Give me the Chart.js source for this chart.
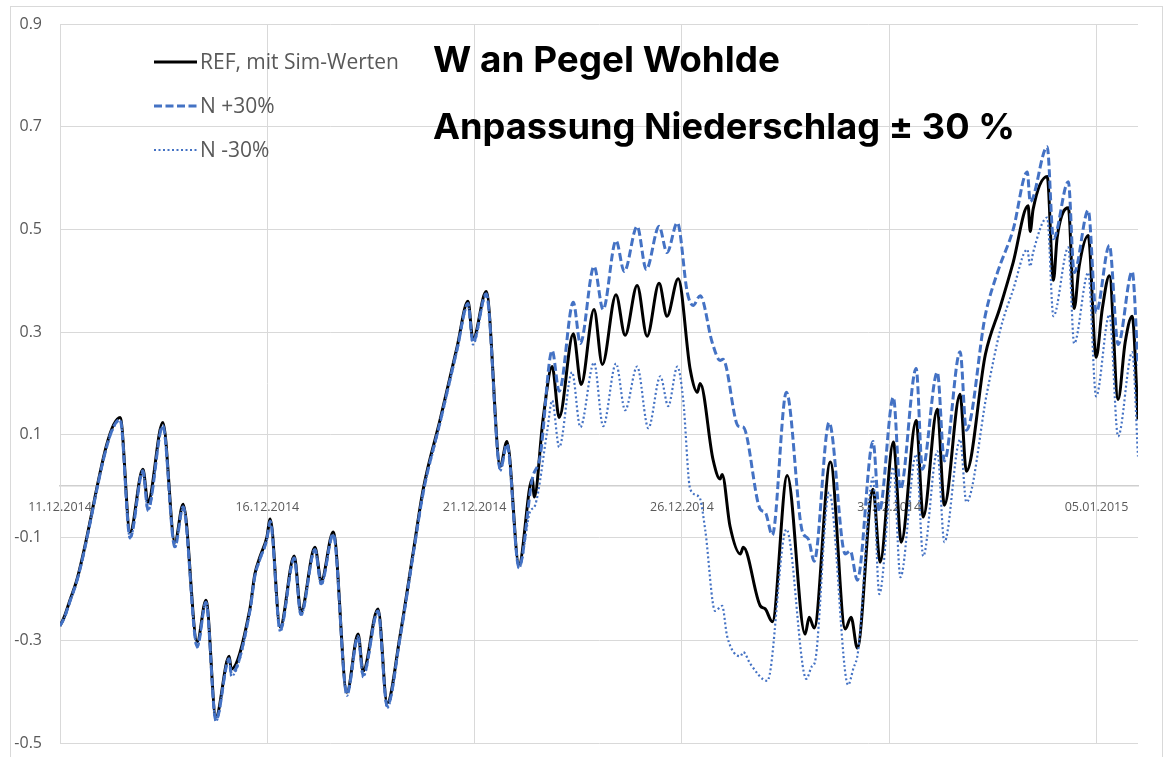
<!DOCTYPE html>
<html><head><meta charset="utf-8">
<script src="https://cdn.jsdelivr.net/npm/chart.js@4.4.1/dist/chart.umd.min.js"></script>
<style>html,body{margin:0;padding:0;background:#fff;}#wrap{width:1165px;height:757px;}</style>
</head><body><div id="wrap"><canvas id="c" width="1165" height="757"></canvas></div>
<script>
// ---- data (x = days since 11.12.2014 00:00, y = water level) ----
const startYear = 2014, startMonth = 11, startDay = 11;
const tickDays = [0, 5, 10, 15, 20, 25];
const yTicks = [-0.5, -0.3, -0.1, 0.1, 0.3, 0.5, 0.7, 0.9];
const seriesNames = ['REF, mit Sim-Werten', 'N +30%', 'N -30%'];
const titleLines = ['W an Pegel Wohlde', 'Anpassung Niederschlag ± 30 %'];

const refDays = [0.00,0.10,0.24,0.39,1.45,1.69,2.00,2.12,2.48,2.77,2.97,3.31,3.52,3.76,4.08,4.13,4.58,4.70,4.83,4.99,5.07,5.31,5.65,5.81,6.15,6.30,6.59,6.92,7.19,7.31,7.67,7.89,8.20,8.52,8.76,9.17,9.58,9.84,9.96,10.28,10.62,10.78,11.07,11.39,11.44,11.65,11.87,12.04,12.38,12.57,12.88,13.08,13.41,13.63,13.92,14.16,14.45,14.64,14.91,15.20,15.37,15.44,15.75,15.92,15.97,16.16,16.41,16.48,16.89,17.01,17.18,17.54,17.97,18.07,18.19,18.58,18.94,19.08,19.23,19.61,19.78,20.10,20.29,20.65,20.82,21.16,21.33,21.71,21.86,22.32,22.68,22.99,23.35,23.40,23.47,23.81,23.96,24.05,24.32,24.46,24.58,24.80,24.99,25.14,25.31,25.52,25.69,25.86,26.00];
const refValues = [-0.272,-0.255,-0.222,-0.187,0.134,-0.089,0.033,-0.031,0.124,-0.109,-0.035,-0.303,-0.222,-0.449,-0.331,-0.356,-0.239,-0.171,-0.136,-0.099,-0.064,-0.274,-0.136,-0.245,-0.119,-0.185,-0.089,-0.401,-0.288,-0.360,-0.239,-0.422,-0.292,-0.128,-0.006,0.130,0.272,0.360,0.286,0.379,0.039,0.087,-0.152,0.014,-0.021,0.130,0.233,0.134,0.297,0.198,0.344,0.237,0.373,0.294,0.391,0.292,0.395,0.331,0.404,0.227,0.183,0.200,0.052,0.014,0.023,-0.078,-0.132,-0.119,-0.233,-0.239,-0.264,0.021,-0.288,-0.255,-0.276,0.047,-0.278,-0.255,-0.315,-0.006,-0.148,0.086,-0.109,0.128,-0.060,0.150,-0.037,0.179,0.029,0.257,0.350,0.436,0.546,0.496,0.539,0.603,0.401,0.484,0.542,0.346,0.428,0.488,0.251,0.346,0.410,0.169,0.280,0.331,0.130];

const plusDays = [0.00,0.10,0.24,0.39,1.45,1.69,2.00,2.12,2.48,2.77,2.97,3.31,3.52,3.76,4.08,4.13,4.58,4.70,4.83,4.99,5.07,5.31,5.65,5.81,6.15,6.30,6.59,6.92,7.19,7.31,7.67,7.89,8.20,8.52,8.76,9.17,9.58,9.84,9.96,10.28,10.62,10.78,11.07,11.39,11.58,11.87,12.04,12.38,12.55,12.88,13.10,13.41,13.61,13.92,14.14,14.45,14.64,14.89,15.13,15.27,15.44,15.73,15.92,15.99,16.36,16.48,16.89,17.01,17.18,17.52,17.90,18.05,18.19,18.55,18.94,19.06,19.23,19.61,19.76,20.10,20.27,20.65,20.80,21.16,21.33,21.71,21.86,22.32,22.61,22.99,23.33,23.40,23.81,23.96,24.32,24.46,24.80,24.99,25.31,25.52,25.86,26.00];
const plusValues = [-0.272,-0.257,-0.224,-0.189,0.130,-0.100,0.030,-0.045,0.118,-0.118,-0.040,-0.312,-0.226,-0.456,-0.336,-0.366,-0.243,-0.175,-0.140,-0.103,-0.068,-0.280,-0.140,-0.250,-0.123,-0.190,-0.093,-0.405,-0.292,-0.368,-0.243,-0.428,-0.296,-0.132,-0.012,0.126,0.268,0.356,0.280,0.375,0.033,0.082,-0.158,0.014,0.058,0.264,0.185,0.358,0.278,0.428,0.344,0.478,0.418,0.506,0.422,0.506,0.455,0.513,0.377,0.352,0.371,0.280,0.245,0.247,0.117,0.115,-0.045,-0.051,-0.095,0.183,-0.087,-0.103,-0.146,0.124,-0.132,-0.126,-0.183,0.087,-0.049,0.173,-0.006,0.229,0.033,0.222,0.049,0.262,0.109,0.334,0.416,0.500,0.612,0.554,0.661,0.482,0.593,0.416,0.537,0.338,0.469,0.276,0.418,0.235];

const minusDays = [0.00,0.10,0.24,0.39,1.45,1.69,2.00,2.12,2.48,2.77,2.97,3.31,3.52,3.76,4.08,4.13,4.58,4.70,4.83,4.99,5.07,5.31,5.65,5.81,6.15,6.30,6.59,6.92,7.19,7.31,7.67,7.89,8.20,8.52,8.76,9.17,9.58,9.84,9.96,10.28,10.62,10.78,11.07,11.34,11.46,11.75,11.87,12.04,12.35,12.55,12.88,13.10,13.41,13.63,13.92,14.19,14.48,14.67,14.89,15.03,15.20,15.42,15.56,15.80,15.97,16.09,16.41,16.48,16.65,17.06,17.52,18.00,18.14,18.21,18.55,19.01,19.13,19.25,19.61,19.76,20.10,20.27,20.65,20.82,21.16,21.33,21.71,21.86,22.36,22.68,22.99,23.33,23.40,23.47,23.81,23.96,24.32,24.46,24.80,24.99,25.31,25.52,25.86,26.00];
const minusValues = [-0.272,-0.258,-0.226,-0.190,0.128,-0.102,0.028,-0.048,0.116,-0.120,-0.042,-0.314,-0.228,-0.458,-0.338,-0.370,-0.245,-0.177,-0.142,-0.105,-0.070,-0.283,-0.142,-0.252,-0.125,-0.192,-0.095,-0.408,-0.294,-0.372,-0.245,-0.432,-0.298,-0.135,-0.015,0.122,0.265,0.352,0.276,0.372,0.030,0.080,-0.160,-0.049,-0.037,0.107,0.167,0.076,0.222,0.115,0.241,0.117,0.239,0.148,0.233,0.113,0.214,0.156,0.233,0.169,-0.006,-0.021,-0.084,-0.243,-0.233,-0.292,-0.331,-0.323,-0.346,-0.379,-0.084,-0.375,-0.350,-0.342,-0.012,-0.387,-0.356,-0.321,0.017,-0.210,0.037,-0.177,0.062,-0.136,0.068,-0.109,0.091,-0.031,0.183,0.305,0.383,0.461,0.428,0.455,0.523,0.331,0.465,0.278,0.416,0.175,0.334,0.097,0.261,0.058];

// ---- helpers ----
function toPoints(days, vals) { return days.map((d, i) => ({ x: d, y: vals[i] })); }
function fmtDate(v) {
  const d = new Date(startYear, startMonth, startDay + Math.round(v));
  const p = n => String(n).padStart(2, '0');
  return p(d.getDate()) + '.' + p(d.getMonth() + 1) + '.' + d.getFullYear();
}
const GRID = '#d9d9d9', TXT = '#595959', FONT = "'Open Sans', 'Noto Sans', sans-serif";

const overlay = {
  id: 'overlay',
  afterDraw(chart) {
    const ctx = chart.ctx;
    ctx.save();
    // outer chart border
    ctx.strokeStyle = GRID; ctx.lineWidth = 1;
    ctx.strokeRect(10.5, 6.5, 1152, 760);
    // legend
    const ys = [62, 106, 150];
    chart.data.datasets.forEach((ds, i) => {
      ctx.save();
      ctx.strokeStyle = ds.borderColor;
      ctx.lineWidth = ds.borderWidth;
      ctx.setLineDash(ds.borderDash || []);
      ctx.beginPath(); ctx.moveTo(154, ys[i]); ctx.lineTo(197, ys[i]); ctx.stroke();
      ctx.restore();
      ctx.fillStyle = TXT;
      ctx.font = "21px " + FONT;
      ctx.textBaseline = 'middle'; ctx.textAlign = 'left';
      ctx.fillText(ds.label, 200, ys[i] + 1);
    });
    // title
    ctx.fillStyle = '#000';
    ctx.textBaseline = 'alphabetic'; ctx.textAlign = 'left';
    ctx.font = "bold 36px Inter, Roboto, 'Liberation Sans', sans-serif";
    const targets = [[433, 72, 347], [433, 139, 582]];
    titleLines.forEach((t, i) => {
      const [x, y, w] = targets[i];
      const m = ctx.measureText(t).width;
      ctx.save();
      ctx.translate(x, y);
      ctx.scale(w / m, 1);
      ctx.fillText(t, 0, 0);
      ctx.restore();
    });
    ctx.restore();
  }
};

new Chart(document.getElementById('c'), {
  type: 'line',
  data: {
    datasets: [
      { label: seriesNames[0], data: toPoints(refDays, refValues), borderColor: '#000000', borderWidth: 3,
        pointRadius: 0, cubicInterpolationMode: 'monotone', fill: false, order: 3 },
      { label: seriesNames[1], data: toPoints(plusDays, plusValues), borderColor: '#4472C4', borderWidth: 3,
        borderDash: [8, 3.5], pointRadius: 0, cubicInterpolationMode: 'monotone', fill: false, order: 2 },
      { label: seriesNames[2], data: toPoints(minusDays, minusValues), borderColor: '#4472C4', borderWidth: 2.2,
        borderDash: [2, 2.5], pointRadius: 0, cubicInterpolationMode: 'monotone', fill: false, order: 1 }
    ]
  },
  options: {
    responsive: false, animation: false, devicePixelRatio: 1,
    layout: { padding: { left: 0, top: 24, right: 27, bottom: 14 } },
    plugins: { legend: { display: false }, tooltip: { enabled: false } },
    scales: {
      x: {
        type: 'linear', min: 0, max: 26, position: { y: 0 },
        grid: { color: GRID, drawTicks: false, lineWidth: 1 },
        border: { color: '#cfcfcf', width: 1.5 },
        ticks: { padding: 14, color: TXT, maxRotation: 0, font: { family: FONT, size: 12.5 }, callback: v => fmtDate(v) },
        afterBuildTicks: s => { s.ticks = tickDays.map(v => ({ value: v })); },
        afterFit: s => { s.height = 0; s.paddingLeft = 0; s.paddingRight = 0; s.paddingTop = 0; s.paddingBottom = 0; }
      },
      y: {
        type: 'linear', min: -0.5, max: 0.9,
        grid: { color: GRID, drawTicks: false, lineWidth: 1 },
        border: { color: GRID, width: 1 },
        ticks: { padding: 18, color: TXT, font: { family: FONT, size: 16 }, callback: v => v.toFixed(1) },
        afterBuildTicks: s => { s.ticks = yTicks.map(v => ({ value: v })); },
        afterFit: s => { s.width = 60; s.paddingTop = 10; s.paddingBottom = 10; }
      }
    }
  },
  plugins: [overlay]
});
</script></body></html>
